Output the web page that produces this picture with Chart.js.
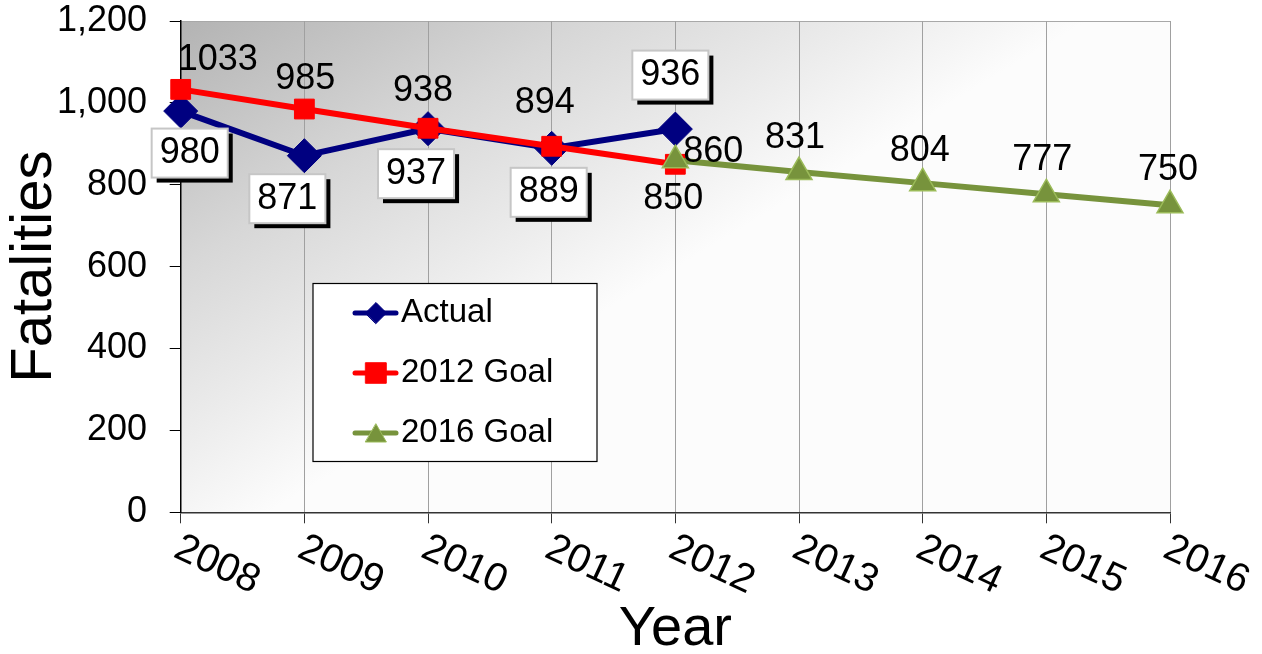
<!DOCTYPE html>
<html>
<head>
<meta charset="utf-8">
<script src="https://cdn.jsdelivr.net/npm/chart.js@4.4.1/dist/chart.umd.min.js"></script>
<style>
  html, body { margin: 0; padding: 0; background: #ffffff; }
  canvas { display: block; }
</style>
</head>
<body>
<canvas id="chart" width="1262" height="654" style="width:1262px;height:654px"></canvas>
<script>
// Categories and series
const years = ['2008', '2009', '2010', '2011', '2012', '2013', '2014', '2015', '2016'];
const actual = [980, 871, 937, 889, 936, null, null, null, null];
const goal2012 = [1033, 985, 938, 894, 850, null, null, null, null];
const goal2016 = [null, null, null, null, 860, 831, 804, 777, 750];
const yTicks = [0, 200, 400, 600, 800, 1000, 1200];

const FONT = '"Liberation Sans", Arial, Helvetica, sans-serif';
Chart.defaults.font.family = FONT;
Chart.defaults.color = '#000000';

// Where each value label sits relative to its point (dx, dy in px)
const labelStyle = {
  'Actual': { boxed: true, offsets: [[9, 42], [-17, 43], [-12, 45], [-3, 44], [-5, -54]] },
  '2012 Goal': { boxed: false, offsets: [[37, -29], [1, -30], [-5, -37], [-7, -43], [-2, 35]] },
  '2016 Goal': { boxed: false, offsets: [null, null, null, null, [38, -8], [-4, -34], [-3, -32], [-4, -34], [-2, -35]] }
};

// Gray-to-white plot background and the thin top border
const plotBackground = {
  id: 'plotBackground',
  beforeDraw(chart) {
    const { ctx, chartArea: a } = chart;
    const g = ctx.createLinearGradient(a.left, a.top, a.left + 240, a.top + 400);
    g.addColorStop(0, '#b3b3b3');
    g.addColorStop(0.45, '#d7d7d7');
    g.addColorStop(1, '#fcfcfc');
    ctx.save();
    ctx.fillStyle = g;
    ctx.fillRect(a.left, a.top, a.right - a.left, a.bottom - a.top);
    ctx.strokeStyle = '#a8a8a8';
    ctx.lineWidth = 1;
    ctx.beginPath();
    ctx.moveTo(a.left, a.top + 0.5);
    ctx.lineTo(a.right, a.top + 0.5);
    ctx.stroke();
    ctx.restore();
  }
};

// Value labels next to each point; the actual values get a white box with a drop shadow
const valueLabels = {
  id: 'valueLabels',
  afterDatasetsDraw(chart) {
    const ctx = chart.ctx;
    ctx.save();
    ctx.font = '36px ' + FONT;
    ctx.textAlign = 'center';
    ctx.textBaseline = 'middle';
    chart.data.datasets.forEach((ds, di) => {
      const meta = chart.getDatasetMeta(di);
      const st = labelStyle[ds.label];
      meta.data.forEach((pt, i) => {
        const v = ds.data[i];
        if (v === null || v === undefined) return;
        const off = st.offsets[i] || [0, -30];
        const x = pt.x + off[0];
        const y = pt.y + off[1];
        const text = String(v);
        if (st.boxed) {
          const w = ctx.measureText(text).width + 16;
          const h = 49;
          ctx.fillStyle = '#000000';
          ctx.fillRect(x - w / 2 + 5, y - h / 2 + 5, w, h);
          ctx.fillStyle = '#ffffff';
          ctx.fillRect(x - w / 2, y - h / 2, w, h);
          ctx.strokeStyle = '#c6c6c6';
          ctx.lineWidth = 2;
          ctx.strokeRect(x - w / 2, y - h / 2, w, h);
        }
        ctx.fillStyle = '#000000';
        ctx.fillText(text, x, y);
      });
    });
    ctx.restore();
  }
};

// Year labels turned clockwise under the axis
const slantedYears = {
  id: 'slantedYears',
  afterDraw(chart) {
    const s = chart.scales.x;
    const ctx = chart.ctx;
    ctx.save();
    ctx.font = '40px ' + FONT;
    ctx.fillStyle = '#000000';
    ctx.textAlign = 'left';
    ctx.textBaseline = 'middle';
    s.ticks.forEach((t, i) => {
      const x = s.getPixelForTick(i);
      ctx.save();
      ctx.translate(x - 4, s.top + 34);
      ctx.rotate(25 * Math.PI / 180);
      ctx.fillText(s.getLabelForValue(t.value), 0, 0);
      ctx.restore();
    });
    ctx.restore();
  }
};

// Boxed legend inside the plot
const boxedLegend = {
  id: 'boxedLegend',
  afterDraw(chart) {
    const ctx = chart.ctx;
    const box = { x: 313, y: 283.5, w: 284, h: 178 };
    const legendMarkers = [
      { pointStyle: 'rectRot', radius: 10.5 },
      { pointStyle: 'rect', radius: 14.5 },
      { pointStyle: 'triangle', radius: 12 }
    ];
    ctx.save();
    ctx.fillStyle = '#ffffff';
    ctx.fillRect(box.x, box.y, box.w, box.h);
    ctx.strokeStyle = '#000000';
    ctx.lineWidth = 1.2;
    ctx.strokeRect(box.x, box.y, box.w, box.h);
    ctx.font = '33px ' + FONT;
    ctx.textAlign = 'left';
    ctx.textBaseline = 'middle';
    chart.data.datasets.forEach((ds, i) => {
      const cy = box.y + 29.5 + i * 60;
      ctx.strokeStyle = ds.borderColor;
      ctx.lineWidth = 5;
      ctx.lineCap = 'round';
      ctx.beginPath();
      ctx.moveTo(355, cy);
      ctx.lineTo(396, cy);
      ctx.stroke();
      ctx.fillStyle = ds.backgroundColor;
      ctx.strokeStyle = ds.pointBorderColor || ds.borderColor;
      ctx.lineWidth = 1;
      const m = legendMarkers[i];
      Chart.helpers.drawPoint(ctx, { pointStyle: m.pointStyle, radius: m.radius, borderWidth: 1, rotation: 0 }, 376, cy + (m.pointStyle === 'triangle' ? 3 : 0));
      ctx.fillStyle = '#000000';
      ctx.fillText(ds.label, 401, cy);
    });
    ctx.restore();
  }
};

new Chart(document.getElementById('chart'), {
  type: 'line',
  data: {
    labels: years,
    datasets: [
      {
        label: 'Actual',
        data: actual,
        borderColor: '#000080',
        backgroundColor: '#000080',
        pointBorderColor: '#000080',
        borderWidth: 6,
        pointStyle: 'rectRot',
        pointRadius: 17,
        pointBorderWidth: 1,
        order: 3,
        clip: false
      },
      {
        label: '2012 Goal',
        data: goal2012,
        borderColor: '#ff0000',
        backgroundColor: '#ff0000',
        pointBorderColor: '#ff0000',
        borderWidth: 6,
        pointStyle: 'rect',
        pointRadius: 14,
        pointBorderWidth: 1,
        order: 2,
        clip: false
      },
      {
        label: '2016 Goal',
        data: goal2016,
        borderColor: '#77933c',
        backgroundColor: '#77933c',
        pointBorderColor: '#9bbb59',
        borderWidth: 6,
        pointStyle: 'triangle',
        pointRadius: 15,
        pointBorderWidth: 1.5,
        order: 1,
        clip: false
      }
    ]
  },
  options: {
    responsive: false,
    devicePixelRatio: 1,
    animation: false,
    events: [],
    locale: 'en-US',
    layout: { padding: { top: 0, right: 92, left: 0, bottom: 0 } },
    plugins: {
      legend: { display: false },
      title: { display: false },
      tooltip: { enabled: false }
    },
    elements: { line: { tension: 0 } },
    scales: {
      x: {
        offset: false,
        afterFit(scale) { scale.height = 141.7; },
        grid: {
          display: true,
          drawOnChartArea: true,
          color: '#a0a0a0',
          lineWidth: 1,
          drawTicks: true,
          tickLength: 11,
          tickColor: '#333333'
        },
        border: { display: true, color: '#333333', width: 1.5 },
        ticks: { display: false },
        title: {
          display: true,
          text: 'Year',
          color: '#000000',
          font: { size: 56, family: FONT, lineHeight: 1.2 },
          padding: { top: 73, bottom: -9.6 }
        }
      },
      y: {
        min: 0,
        max: 1200,
        afterBuildTicks(scale) {
          scale.ticks = yTicks.map(v => ({ value: v }));
        },
        afterFit(scale) {
          scale.width = 180.7;
          scale.paddingTop = 21;
          scale.paddingBottom = 0;
        },
        grid: {
          display: true,
          drawOnChartArea: false,
          drawTicks: true,
          tickLength: 11,
          tickColor: '#000000'
        },
        border: { display: true, color: '#000000', width: 1.5 },
        ticks: {
          color: '#000000',
          font: { size: 36, family: FONT },
          padding: 22.7
        },
        title: {
          display: true,
          text: 'Fatalities',
          color: '#000000',
          font: { size: 58, family: FONT, lineHeight: 1.2 },
          padding: { top: 0, bottom: 0 }
        }
      }
    }
  },
  plugins: [plotBackground, valueLabels, slantedYears, boxedLegend]
});
</script>
</body>
</html>
